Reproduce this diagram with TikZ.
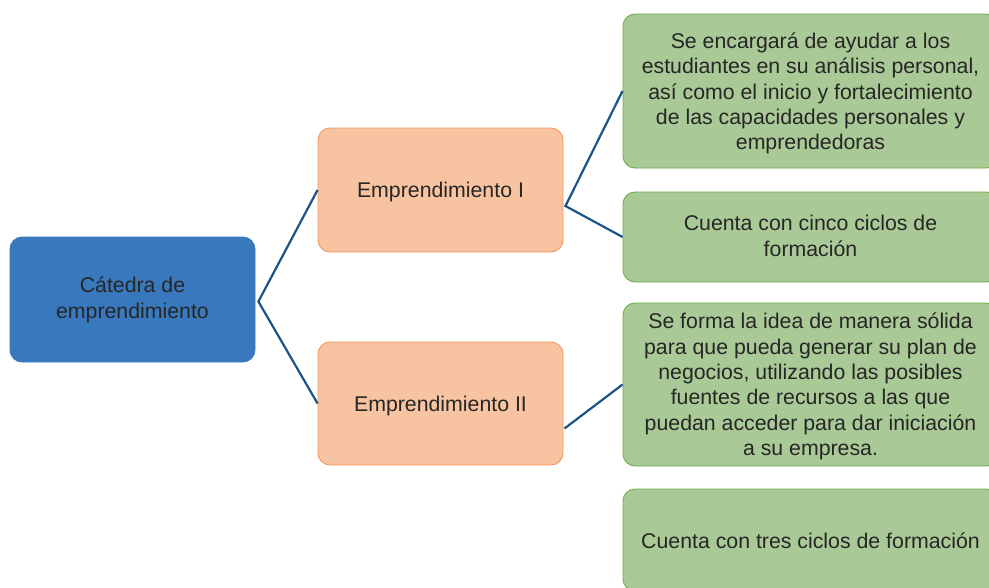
\documentclass[tikz,border=0pt]{standalone}
\usepackage{fontspec}
\setmainfont{Liberation Sans}
\definecolor{bluefill}{HTML}{3878BD}
\definecolor{orfill}{HTML}{F8C3A0}
\definecolor{ordraw}{HTML}{F29A5E}
\definecolor{grfill}{HTML}{A9C996}
\definecolor{grdraw}{HTML}{6FAD4A}
\definecolor{link}{HTML}{1B5489}
\definecolor{txt}{HTML}{262626}
\begin{document}
\begin{tikzpicture}[x=1pt,y=-1pt,
  box/.style={rounded corners=12pt, inner sep=0pt},
  lbl/.style={inner sep=0pt, align=center, text=txt,
    font=\fontsize{21.3}{25.3}\selectfont},
  bluebox/.style={box, fill=bluefill, draw=bluefill, line width=0.8pt},
  orbox/.style={box, fill=orfill, draw=ordraw, line width=0.9pt},
  grbox/.style={box, fill=grfill, draw=grdraw, line width=0.9pt},
  conn/.style={draw=link, line width=2.2pt}]
\useasboundingbox (0,0) rectangle (989,587);
\clip (0,0) rectangle (989,587);
\node[bluebox, minimum width=245pt, minimum height=125pt] (cat) at (132.5,299.5) {};
\node[orbox, minimum width=245pt, minimum height=124pt] (e1) at (440.5,190) {};
\node[orbox, minimum width=245pt, minimum height=123pt] (e2) at (440.5,403.5) {};
\node[grbox, minimum width=375pt, minimum height=154pt] (g1) at (810.5,91) {};
\node[grbox, minimum width=375pt, minimum height=90pt] (g2) at (810.5,237) {};
\node[grbox, minimum width=375pt, minimum height=163pt] (g3) at (810.5,384.5) {};
\node[grbox, minimum width=375pt, minimum height=102pt] (g4) at (810.5,540) {};
\node[lbl] (catt) at ([yshift=-0.5pt]cat.center) {Cátedra de\\emprendimiento};
\node[lbl] (e1t) at ([yshift=-2pt]e1.center) {Emprendimiento I};
\node[lbl] (e2t) at ([yshift=-2pt]e2.center) {Emprendimiento II};
\node[lbl] (g1t) at ([yshift=-2.5pt]g1.center) {Se encargará de ayudar a los\\estudiantes en su análisis personal,\\así como el inicio y fortalecimiento\\de las capacidades personales y\\emprendedoras};
\node[lbl] (g2t) at ([yshift=1pt]g2.center) {Cuenta con cinco ciclos de\\formación};
\node[lbl] (g3t) at ([yshift=-2pt]g3.center) {Se forma la idea de manera sólida\\para que pueda generar su plan de\\negocios, utilizando las posibles\\fuentes de recursos a las que\\puedan acceder para dar iniciación\\a su empresa.};
\node[lbl] (g4t) at ([yshift=-1pt]g4.center) {Cuenta con tres ciclos de formación};
\coordinate (v0) at ([xshift=3pt,yshift=-2pt]cat.east);
\coordinate (v1) at ([xshift=2pt,yshift=-16pt]e1.east);
\coordinate (v2) at ([xshift=1pt,yshift=-25pt]e2.east);
\draw[conn] (e1.west) -- (v0) -- (e2.west);
\draw[conn] (g1.west) -- (v1) -- (g2.west);
\draw[conn] (v2) -- (g3.west);
\end{tikzpicture}
\end{document}
